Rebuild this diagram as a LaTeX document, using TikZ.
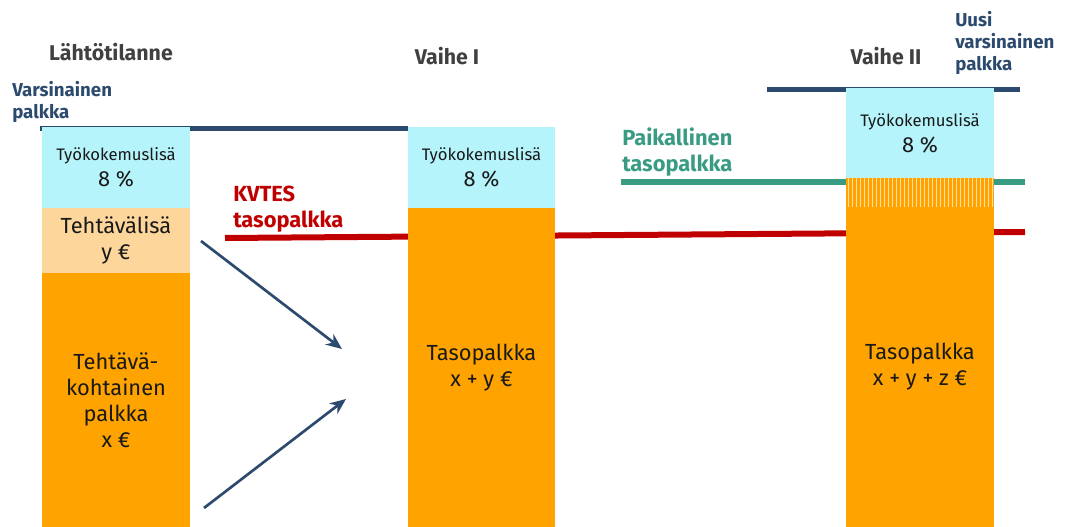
\documentclass[tikz,border=0pt]{standalone}
\usepackage{fontspec}
\setmainfont{Fira Sans}
\usetikzlibrary{arrows, arrows.meta, patterns}

\definecolor{tyoblue}{HTML}{B6F4FB}
\definecolor{tehpeach}{HTML}{FDD69B}
\definecolor{tasoorange}{HTML}{FFA300}
\definecolor{darkblue}{HTML}{2C4A6E}
\definecolor{kvtesred}{HTML}{C00000}
\definecolor{paikgreen}{HTML}{3A9B83}
\definecolor{headgray}{HTML}{404040}

\begin{document}
\begin{tikzpicture}[x=0.75pt, y=-0.75pt]
		\newcommand{\pien}{\fontsize{12.5}{15}\selectfont}
		\newcommand{\iso}{\fontsize{16.4}{19.5}\selectfont}
		\tikzstyle{Box} = [rectangle, minimum width=110.5pt, inner sep=0pt, text centered, align=center, text=black!90, font=\iso]
		\tikzstyle{arrow} = [line width=2pt,-{Stealth[length=12pt, width=10pt]}, draw=darkblue]
		\tikzstyle{Head} = [font=\fontsize{16}{19}\selectfont\bfseries, text=headgray]
		\tikzstyle{Lbl} = [anchor=north west, align=left, inner sep=0pt, font=\fontsize{14}{16.5}\selectfont\bfseries]
		\tikzstyle{BigLbl} = [Lbl, font=\fontsize{16.4}{19}\selectfont\bfseries]
		
		\useasboundingbox (0,0) rectangle (1065,527);
		
		% palkkatasot
		\draw [line width=3.75pt, darkblue] (40,129) -- (408,129);
		\draw [line width=3.75pt, darkblue] (767,89.5) -- (1020,89.5);
		\draw [line width=4.5pt, paikgreen] (621,182) -- (1025,182);
		\draw [line width=4.5pt, kvtesred] (225,238) -- (1025,232);
		
		% Lahtotilanne
		\node (tyo1) [Box, fill=tyoblue, minimum height=60.75pt] at (116,167.5) {{\pien Työkokemuslisä}\\8 \%};
		\node (teh1) [Box, fill=tehpeach, minimum height=48.75pt] at (116,240.5) {Tehtävälisä\\y €};
		\node (koht1) [Box, fill=tasoorange, minimum height=190.5pt] at (116,400) {Tehtävä-\\kohtainen\\palkka\\x €};
		
		% Vaihe I
		\node (tyo2) [Box, fill=tyoblue, minimum height=60.75pt] at (481.5,167.5) {{\pien Työkokemuslisä}\\8 \%};
		\node (taso2) [Box, fill=tasoorange, minimum height=239.25pt] at (481.5,367.5) {Tasopalkka\\x + y €};
		
		% Vaihe II
		\node (tyo3) [Box, fill=tyoblue, minimum height=67.5pt] at (920,133) {{\pien Työkokemuslisä}\\8 \%};
		\node (paik3) [Box, fill=tasoorange, minimum height=21.75pt] at (920,192.5) {};
		\fill [pattern=vertical lines, pattern color=white!65!tasoorange] (paik3.south west) rectangle (paik3.north east);
		\node (taso3) [Box, fill=tasoorange, minimum height=240pt] at (920,367) {Tasopalkka\\x + y + z €};
		
		% otsikot
		\node (lahto) [Head] at (111,52) {Lähtötilanne};
		\node (vaihe1) [Head] at (447,56) {Vaihe I};
		\node (vaihe2) [Head] at (886,56) {Vaihe II};
		
		\node (vars) [Lbl, text=darkblue] at (12,81) {Varsinainen\\palkka};
		\node (uusi) [Lbl, text=darkblue] at (955,11) {Uusi\\varsinainen\\palkka};
		\node (kvtes) [BigLbl, text=kvtesred] at (233,186) {KVTES\\tasopalkka};
		\node (paik) [BigLbl, text=paikgreen] at (622,128) {Paikallinen\\tasopalkka};
		
		% nuolet
		\coordinate (a1) at (201,241);
		\coordinate (b1) at (342,349);
		\coordinate (a2) at (204,508);
		\coordinate (b2) at (346,399);
		\draw [arrow] (a1) -- (b1);
		\draw [arrow] (a2) -- (b2);
\end{tikzpicture}
\end{document}
